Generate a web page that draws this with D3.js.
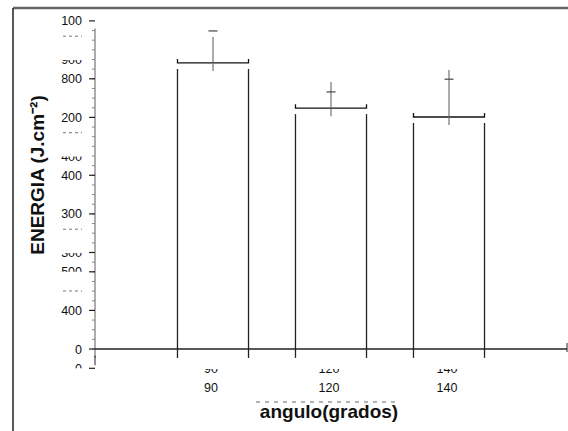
<!DOCTYPE html>
<html>
<head>
<meta charset="utf-8">
<script src="https://cdn.jsdelivr.net/npm/d3@7"></script>
<style>
  body { margin: 0; background: #fff; }
  text { font-family: "Liberation Sans", Arial, sans-serif; }
</style>
</head>
<body>
<div id="chart"></div>
<script>
// chart values
const categories = ['90', '120', '140'];
const energy = [741, 624, 601];
const errorTop = [808, 692, 723];
const errorCap = [824, 666, 699];

// y tick labels as printed (the scan is garbled, several rows half-visible)
const yTickValues = [850, 700, 600, 450, 350, 100, 0];
const yTickLabels = ['100', '800', '200', '400', '300', '400', '0'];
const yLowerHalfValues = [750, 500, 250];
const yLowerHalfLabels = ['900', '400', '300'];
const yUpperHalfValues = [200, -50];
const yUpperHalfLabels = ['500', '0'];
const yDotValues = [800, 550, 300, 140];
const yMajorTicks = [850, 700, 600, 450, 350, 250, 200, 100, 0, -50];

const xTitle = 'angulo(grados)';
const yTitle = 'ENERGIA (J.cm\u207B\u00B2)';

const width = 568;
const height = 431;

const svg = d3.select('#chart')
  .append('svg')
  .attr('width', width)
  .attr('height', height);

// frame of the scanned page
svg.append('line')
  .attr('x1', 13).attr('x2', 568).attr('y1', 8).attr('y2', 8)
  .attr('stroke', '#666').attr('stroke-width', 2.5);
svg.append('line')
  .attr('x1', 13).attr('x2', 13).attr('y1', 8).attr('y2', 431)
  .attr('stroke', '#222').attr('stroke-width', 1.5);

const x = d3.scaleBand()
  .domain(categories)
  .range([95, 567])
  .paddingInner(0.398)
  .paddingOuter(0.699);

const y = d3.scaleLinear()
  .domain([0, 850])
  .range([349, 349 - 850 * 0.386]);

const defs = svg.append('defs');
let clipId = 0;
// text that only shows a horizontal band of itself (like the scan)
const bandText = (g, tx, ty, label, anchor, top, bottom) => {
  const id = 'c' + (clipId++);
  defs.append('clipPath').attr('id', id)
    .append('rect')
    .attr('x', tx - 60).attr('width', 120)
    .attr('y', ty + top).attr('height', bottom - top);
  g.append('text')
    .attr('clip-path', `url(#${id})`)
    .attr('x', tx).attr('y', ty)
    .attr('text-anchor', anchor)
    .attr('font-size', 12.5)
    .attr('fill', '#111')
    .text(label);
};

// y axis
const yAxis = svg.append('g');
yAxis.append('line')
  .attr('x1', 95).attr('x2', 95)
  .attr('y1', y(830)).attr('y2', y(-23))
  .attr('stroke', '#777').attr('stroke-width', 1.2);

yAxis.selectAll('.minor')
  .data(d3.range(0, 826, 25))
  .join('line')
  .attr('class', 'minor')
  .attr('x1', 92).attr('x2', 95)
  .attr('y1', d => y(d)).attr('y2', d => y(d))
  .attr('stroke', '#888');

yAxis.selectAll('.major')
  .data(yMajorTicks)
  .join('line')
  .attr('class', 'major')
  .attr('x1', 89).attr('x2', 95)
  .attr('y1', d => y(d)).attr('y2', d => y(d))
  .attr('stroke', '#222').attr('stroke-width', 1.2);

yAxis.selectAll('.lab')
  .data(yTickValues)
  .join('text')
  .attr('class', 'lab')
  .attr('x', 82)
  .attr('y', d => y(d) + 4.5)
  .attr('text-anchor', 'end')
  .attr('font-size', 12.5)
  .attr('fill', '#111')
  .text((d, i) => yTickLabels[i]);

yLowerHalfValues.forEach((v, i) =>
  bandText(yAxis, 82, y(v) + 4.5, yLowerHalfLabels[i], 'end', -4, 1));
yUpperHalfValues.forEach((v, i) =>
  bandText(yAxis, 82, y(v) + 4.5, yUpperHalfLabels[i], 'end', -9.5, -4.5));
// rows where only the top edge of the digits survived
yAxis.selectAll('.dots')
  .data(yDotValues)
  .join('line')
  .attr('class', 'dots')
  .attr('x1', 63).attr('x2', 82)
  .attr('y1', d => y(d) - 4).attr('y2', d => y(d) - 4)
  .attr('stroke', '#777').attr('stroke-width', 1)
  .attr('stroke-dasharray', '3,3');

// bars: open boxes with a bracket on top
const bars = svg.append('g');
categories.forEach((c, i) => {
  const x0 = x(c);
  const x1 = x(c) + x.bandwidth();
  const top = y(energy[i]);
  bars.append('path')
    .attr('d', `M${x0},${top - 4}V${top}H${x1}V${top - 4}`)
    .attr('fill', 'none').attr('stroke', '#111').attr('stroke-width', 1.3);
  [x0, x1].forEach(px => {
    bars.append('line')
      .attr('x1', px).attr('x2', px)
      .attr('y1', top + 6).attr('y2', y(-23))
      .attr('stroke', '#222').attr('stroke-width', 1.3);
  });
  const cx = x(c) + x.bandwidth() / 2;
  bars.append('line')
    .attr('x1', cx).attr('x2', cx)
    .attr('y1', y(errorTop[i])).attr('y2', top + 8)
    .attr('stroke', '#666').attr('stroke-width', 1.1);
  bars.append('line')
    .attr('x1', cx - 4.5).attr('x2', cx + 4.5)
    .attr('y1', y(errorCap[i])).attr('y2', y(errorCap[i]))
    .attr('stroke', '#444').attr('stroke-width', 1.2);
});

// x axis
const xAxis = svg.append('g');
xAxis.append('line')
  .attr('x1', 95).attr('x2', 567)
  .attr('y1', y(0)).attr('y2', y(0))
  .attr('stroke', '#222').attr('stroke-width', 1.5);
xAxis.append('line')
  .attr('x1', 567).attr('x2', 567)
  .attr('y1', y(0) - 6).attr('y2', y(0) + 3)
  .attr('stroke', '#222');
xAxis.append('line')
  .attr('x1', 95).attr('x2', 95)
  .attr('y1', y(-17)).attr('y2', y(-42))
  .attr('stroke', '#222');

xAxis.selectAll('.xlab')
  .data(categories)
  .join('text')
  .attr('class', 'xlab')
  .attr('x', d => x(d) + x.bandwidth() / 2 - 2)
  .attr('y', 392)
  .attr('text-anchor', 'middle')
  .attr('font-size', 12.5)
  .attr('fill', '#111')
  .text(d => d);
categories.forEach(c =>
  bandText(xAxis, x(c) + x.bandwidth() / 2 - 2, 373, c, 'middle', -4, 1));

// axis titles
svg.append('text')
  .attr('x', 329).attr('y', 418)
  .attr('text-anchor', 'middle')
  .attr('font-size', 19)
  .attr('font-weight', 'bold')
  .attr('fill', '#111')
  .text(xTitle);
// broken remnant of a second title line above it
svg.append('line')
  .attr('x1', 256).attr('x2', 398)
  .attr('y1', 402).attr('y2', 402)
  .attr('stroke', '#666').attr('stroke-width', 1)
  .attr('stroke-dasharray', '4,5');

svg.append('text')
  .attr('transform', 'translate(44,175) rotate(-90)')
  .attr('text-anchor', 'middle')
  .attr('font-size', 19)
  .attr('font-weight', 'bold')
  .attr('fill', '#111')
  .text(yTitle);
</script>
</body>
</html>
